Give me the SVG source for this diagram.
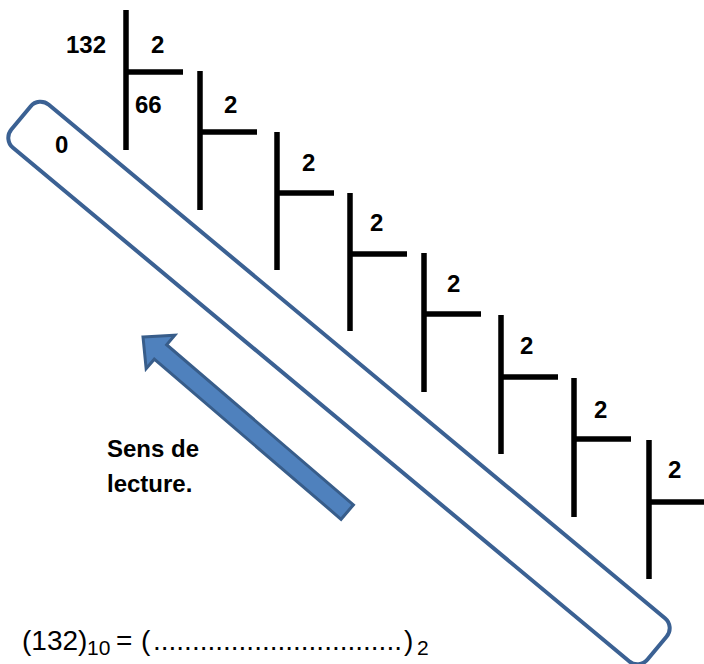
<svg xmlns="http://www.w3.org/2000/svg" width="704" height="664" viewBox="0 0 704 664">
<style>
.br{stroke:#000;stroke-width:5.5;fill:none;stroke-linecap:butt}
.num{font-family:"Liberation Sans",Arial,sans-serif;font-weight:bold;font-size:24px;fill:#000}
.eq{font-family:"Liberation Sans",Arial,sans-serif;font-size:28px;fill:#000}
.sub{font-family:"Liberation Sans",Arial,sans-serif;font-size:21px;fill:#000}
</style>
<rect width="704" height="664" fill="#fff"/>
<g id="band">
<rect x="-414" y="-28" width="828" height="56" rx="13" transform="translate(339,383) rotate(39.8)" fill="none" stroke="#3B6193" stroke-width="4"/>
</g>
<g id="brackets">
<g id="b0"><path class="br" d="M126,10V150M126,72H183"/><text class="num" x="66" y="53">132</text><text class="num" x="151" y="53">2</text><text class="num" x="135" y="113">66</text></g>
<g id="b1"><path class="br" d="M200,71V210M200,132H257"/><text class="num" x="224" y="113">2</text></g>
<g id="b2"><path class="br" d="M277,132V270M277,193H334"/><text class="num" x="302" y="171">2</text></g>
<g id="b3"><path class="br" d="M350,193V331M350,254H407"/><text class="num" x="370" y="231">2</text></g>
<g id="b4"><path class="br" d="M424,253V392M424,314H481"/><text class="num" x="447" y="292">2</text></g>
<g id="b5"><path class="br" d="M501,315V454M501,377H558"/><text class="num" x="520" y="354">2</text></g>
<g id="b6"><path class="br" d="M574,378V517M574,439H631"/><text class="num" x="594" y="418">2</text></g>
<g id="b7"><path class="br" d="M649,440V579M649,502H704"/><text class="num" x="668" y="478">2</text></g>
</g>
<g id="zero"><text class="num" x="55" y="153">0</text></g>
<g id="arrow">
<polygon points="0,0 23,-22 23,-9.5 269,-9.5 269,9.5 23,9.5 23,22" transform="translate(143,337) rotate(40.6)" fill="#4F81BD" stroke="#385D8A" stroke-width="3" stroke-linejoin="miter"/>
</g>
<g id="label">
<text class="num" x="107" y="457">Sens de</text>
<text class="num" x="107" y="492">lecture.</text>
</g>
<g id="equation">
<text class="eq" x="22" y="650">(132)</text>
<text class="sub" x="87" y="655">10</text>
<text class="eq" x="116" y="650">=</text>
<text class="eq" x="141" y="650">(</text>
<text class="eq" x="153" y="650">................................</text>
<text class="eq" x="404" y="650">)</text>
<text class="sub" x="417" y="655">2</text>
</g>
</svg>
